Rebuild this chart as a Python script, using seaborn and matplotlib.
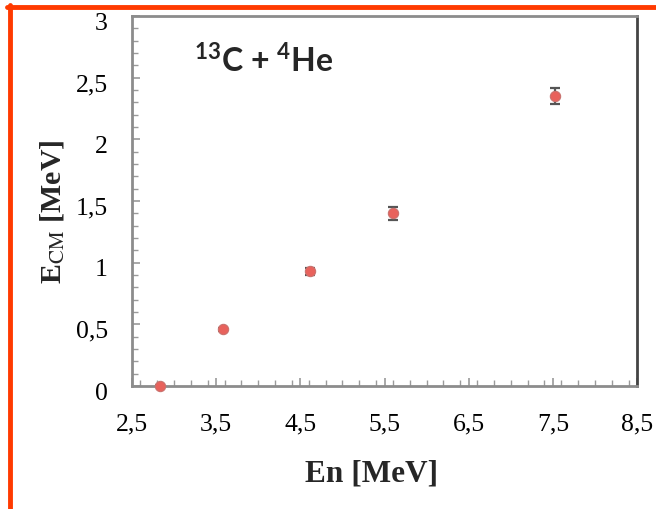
import matplotlib
matplotlib.use("Agg")
import matplotlib.pyplot as plt
import matplotlib.transforms as mtransforms
from matplotlib.lines import Line2D
from matplotlib.ticker import MultipleLocator, FuncFormatter
import seaborn as sns
import pandas as pd

# Neutron energy vs. centre-of-mass energy for 13C + 4He
en_mev = [2.83, 3.58, 4.62, 5.60, 7.52]
ecm_mev = [0.0, 0.46, 0.93, 1.40, 2.35]
ecm_err = [0.005, 0.01, 0.03, 0.05, 0.065]
x_ticks = [2.5, 3.5, 4.5, 5.5, 6.5, 7.5, 8.5]
y_ticks = [0, 0.5, 1, 1.5, 2, 2.5, 3]

df = pd.DataFrame({"En": en_mev, "Ecm": ecm_mev, "err": ecm_err})

sns.set_theme(style="white")
plt.rcParams["mathtext.fontset"] = "custom"
plt.rcParams["mathtext.bf"] = "Lato:bold"
plt.rcParams["mathtext.rm"] = "Lato:bold"

fig = plt.figure(figsize=(6.56, 5.09), dpi=100)
ax = fig.add_axes([132 / 656, 1 - 386 / 509, (637 - 132) / 656, (386 - 16) / 509])

ax.errorbar(df["En"], df["Ecm"], yerr=df["err"], fmt="none", ecolor="#555555",
            elinewidth=1.6, capsize=3.8, capthick=1.6, zorder=2)
sns.scatterplot(data=df, x="En", y="Ecm", ax=ax, s=55, color="#e8625c",
                edgecolor="#c9726e", linewidth=0.8, zorder=3, clip_on=False)

ax.set_xlim(2.5, 8.5)
ax.set_ylim(0, 3)
ax.set_xticks(x_ticks)
ax.set_yticks(y_ticks)
ax.xaxis.set_minor_locator(MultipleLocator(0.2))
ax.yaxis.set_minor_locator(MultipleLocator(0.1))

comma = FuncFormatter(lambda v, p: (f"{v:g}").replace(".", ","))
ax.xaxis.set_major_formatter(comma)
ax.yaxis.set_major_formatter(comma)

ax.tick_params(axis="both", which="both", direction="in", colors="#9a9a9a",
               labelcolor="black", labelsize=18.5)
ax.tick_params(axis="both", which="major", length=6, width=1.2)
ax.tick_params(axis="both", which="minor", length=4, width=1.0)
ax.tick_params(axis="x", which="both", bottom=True, top=False)
ax.tick_params(axis="y", which="both", left=True, right=False)
ax.tick_params(axis="x", which="major", pad=20)
ax.tick_params(axis="y", which="major", pad=17.5)

# y tick labels sit slightly below their ticks
shift = mtransforms.ScaledTranslation(0, -5 / 100, fig.dpi_scale_trans)
for lab in ax.get_yticklabels():
    lab.set_transform(lab.get_transform() + shift)
for lab in ax.get_xticklabels() + ax.get_yticklabels():
    lab.set_fontfamily("Liberation Serif")

for side in ["left", "bottom", "top"]:
    ax.spines[side].set_color("#8c8c8c")
    ax.spines[side].set_linewidth(2.0)
ax.spines["right"].set_color("#444444")
ax.spines["right"].set_linewidth(2.0)

ax.set_xlabel("En [MeV]", fontfamily="Liberation Serif", fontweight="bold",
              fontsize=22.5, labelpad=17)
ax.xaxis.label.set_x((372 - 132) / 505)
ax.set_ylabel(r"E$_{\mathrm{CM}}$ [MeV]", fontfamily="Liberation Serif",
              fontweight="bold", fontsize=21.5, labelpad=6, math_fontfamily="stix")
ax.yaxis.label.set_y((386 - 212) / 370)

ax.text(0.123, 0.88, r"$^{\mathbf{13}}$C + $^{\mathbf{4}}$He", transform=ax.transAxes,
        fontfamily="Lato", fontweight="bold", fontsize=23, va="center",
        ha="left")

# orange-red frame along the top and left edges
frame_color = "#ff3a00"
fig.add_artist(Line2D([7 / 656, 1.0], [1 - 7 / 509, 1 - 7 / 509],
                      transform=fig.transFigure, color=frame_color, linewidth=3.5))
fig.add_artist(Line2D([9.5 / 656, 9.5 / 656], [0.0, 1 - 5 / 509],
                      transform=fig.transFigure, color=frame_color, linewidth=3.5))

fig.savefig("out.png", dpi=100)
